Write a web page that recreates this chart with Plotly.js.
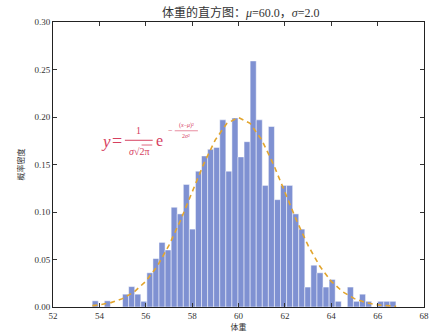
<!DOCTYPE html>
<html>
<head>
<meta charset="utf-8">
<script src="https://cdn.plot.ly/plotly-3.0.1.min.js"></script>
<style>html,body{margin:0;padding:0;background:#fff;}#chart{width:433px;height:336px;}</style>
</head>
<body>
<div id="chart"></div>
<script>
// Histogram bins (density values)
const binStart = 53.69;
const binWidth = 0.262;
const densities = [
  0.0065, 0, 0.0065, 0, 0, 0.0135, 0.0215, 0.0135, 0.006, 0.036,
  0.051, 0.068, 0.060, 0.105, 0.098, 0.129, 0.082, 0.143, 0.159, 0.166,
  0.168, 0.197, 0.143, 0.199, 0.158, 0.174, 0.259, 0.197, 0.128, 0.190,
  0.113, 0.128, 0.128, 0.098, 0.082, 0.021, 0.044, 0.036, 0.021, 0.029,
  0.006, 0, 0.021, 0.006, 0.0135, 0.006, 0, 0.006, 0.006, 0.006
];
// Dashed fitted curve
const curveX = [53.7, 54.0, 54.5, 55.0, 55.5, 56.0, 56.5, 57.0, 57.5, 58.0, 58.5, 59.0, 59.5, 60.0,
                60.5, 61.0, 61.5, 62.0, 62.5, 63.0, 63.5, 64.0, 64.5, 65.0, 65.5, 66.0, 66.5, 66.8];
const curveY = [0.0014, 0.0022, 0.0046, 0.0088, 0.0159, 0.0270, 0.0431, 0.0648, 0.0913, 0.1210, 0.1506, 0.1760, 0.1933, 0.1995,
                0.1933, 0.1760, 0.1506, 0.1210, 0.0913, 0.0648, 0.0431, 0.0270, 0.0159, 0.0088, 0.0046, 0.0022, 0.0010, 0.0007];
const xTicks = [52, 54, 56, 58, 60, 62, 64, 66, 68];
const yTicks = [0.00, 0.05, 0.10, 0.15, 0.20, 0.25, 0.30];
const titleText = "体重的直方图：<i>μ</i>=60.0，<i>σ</i>=2.0";
const xTitle = "体重";
const yTitle = "概率密度";

const barX = densities.map((_, i) => binStart + binWidth * (i + 0.5));
const red = "#d6405f";
const serif = "Liberation Serif, 'Noto Sans CJK SC', serif";

const traces = [
  {
    type: "bar", x: barX, y: densities, width: binWidth,
    marker: { color: "#7f91d2", line: { color: "rgba(255,255,255,0.7)", width: 0.7 } },
    hoverinfo: "skip", showlegend: false
  },
  {
    type: "scatter", mode: "lines", x: curveX, y: curveY,
    line: { color: "#e2a52e", width: 1.6, dash: "5px,4px" },
    showlegend: false, hoverinfo: "skip"
  }
];

const ann = (x, y, text, size, extra) => Object.assign({
  xref: "x", yref: "y", x: x, y: y, text: text, showarrow: false,
  font: { family: serif, size: size, color: red }, xanchor: "center", yanchor: "middle"
}, extra || {});

const layout = {
  width: 433, height: 336,
  margin: { l: 53, r: 9, t: 22, b: 29 },
  paper_bgcolor: "#fff", plot_bgcolor: "#fff",
  bargap: 0,
  title: { text: titleText, x: 0.556, xanchor: "center", y: 0.962, yanchor: "middle",
           font: { family: serif, size: 12, color: "#333" } },
  xaxis: {
    range: [52, 68], tickvals: xTicks, ticktext: xTicks.map(String),
    ticks: "inside", ticklen: 4, tickcolor: "#333", mirror: "ticks",
    showline: true, linecolor: "#222", linewidth: 1, showgrid: false, zeroline: false,
    tickfont: { family: serif, size: 9, color: "#333" },
    title: { text: xTitle, standoff: 2, font: { family: "Noto Sans CJK SC", size: 8, color: "#333" } }
  },
  yaxis: {
    range: [0, 0.30], tickvals: yTicks, ticktext: yTicks.map(v => v.toFixed(2)),
    ticks: "inside", ticklen: 4, tickcolor: "#333", mirror: "ticks",
    showline: true, linecolor: "#222", linewidth: 1, showgrid: false, zeroline: false,
    tickfont: { family: serif, size: 9, color: "#333" },
    title: { text: yTitle, standoff: 8, font: { family: "Noto Sans CJK SC", size: 8, color: "#333" } }
  },
  annotations: [
    ann(54.29, 0.174, "<i>y</i>", 17),
    ann(54.78, 0.175, "=", 18),
    ann(55.67, 0.186, "1", 10),
    ann(55.71, 0.164, "<i>σ</i>√2π", 10),
    ann(56.61, 0.175, "e", 16),
    ann(57.05, 0.1858, "−", 8),
    ann(57.75, 0.191, "(<i>x</i>−<i>μ</i>)²", 6),
    ann(57.75, 0.180, "2<i>σ</i>²", 6)
  ],
  shapes: [
    { type: "line", xref: "x", yref: "y", x0: 55.1, x1: 56.3, y0: 0.1755, y1: 0.1755, line: { color: red, width: 1 } },
    { type: "line", xref: "x", yref: "y", x0: 55.82, x1: 56.28, y0: 0.1705, y1: 0.1705, line: { color: red, width: 0.8 } },
    { type: "line", xref: "x", yref: "y", x0: 57.25, x1: 58.25, y0: 0.1855, y1: 0.1855, line: { color: red, width: 0.6 } }
  ]
};

Plotly.newPlot("chart", traces, layout, { displayModeBar: false, staticPlot: true });
</script>
</body>
</html>
